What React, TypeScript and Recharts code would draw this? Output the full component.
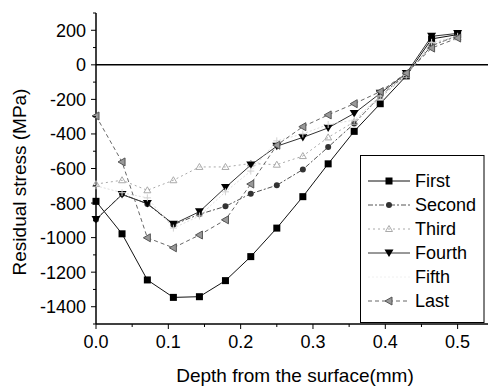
import React from 'react';
import { LineChart, Line, XAxis, YAxis, ReferenceLine, Legend, Label } from 'recharts';

const depth = [0, 0.036, 0.071, 0.107, 0.143, 0.179, 0.214, 0.25, 0.286, 0.321, 0.357, 0.393, 0.429, 0.464, 0.5];
const first = [-790, -978, -1245, -1346, -1342, -1249, -1110, -945, -763, -573, -385, -225, -64, 150, 175];
const second = [-895, -748, -805, -925, -865, -819, -746, -697, -606, -476, -340, -180, -55, 110, 170];
const third = [-690, -668, -726, -668, -591, -591, -571, -578, -528, -420, -330, -190, -60, 120, 160];
const fourth = [-895, -751, -803, -922, -850, -710, -580, -471, -420, -365, -281, -165, -50, 165, 182];
const fifth = [-700, -740, -770, -945, -875, -735, -615, -440, -400, -345, -320, -180, -60, 130, 165];
const last = [-296, -562, -1001, -1059, -985, -897, -690, -465, -358, -290, -225, -155, -48, 97, 155];

const seriesNames = ['First', 'Second', 'Third', 'Fourth', 'Fifth', 'Last'];
const seriesKeys = ['first', 'second', 'third', 'fourth', 'fifth', 'last'];

const xTicks = [0, 0.05, 0.1, 0.15, 0.2, 0.25, 0.3, 0.35, 0.4, 0.45, 0.5];
const xMajor = [0, 0.1, 0.2, 0.3, 0.4, 0.5];
const yTicks = [-1500, -1400, -1300, -1200, -1100, -1000, -900, -800, -700, -600, -500, -400, -300, -200, -100, 0, 100, 200, 300];
const yMajor = [-1400, -1200, -1000, -800, -600, -400, -200, 0, 200];

const data = depth.map((d, i) => ({
  depth: d,
  first: first[i],
  second: second[i],
  third: third[i],
  fourth: fourth[i],
  fifth: fifth[i],
  last: last[i],
}));

const FONT = '"Liberation Sans", Arial, sans-serif';

type Style = { color: string; dash?: string; shape: string; fill: string; width: number };
const styles: Record<string, Style> = {
  first: { color: '#111', shape: 'square', fill: '#000', width: 1 },
  second: { color: '#555', dash: '5 2 2 2', shape: 'circle', fill: '#333', width: 1 },
  third: { color: '#aaa', dash: '2 3', shape: 'triUp', fill: '#aaa', width: 1 },
  fourth: { color: '#333', shape: 'triDown', fill: '#000', width: 1 },
  fifth: { color: '#dedede', dash: '2 2', shape: 'cross', fill: '#d2d2d2', width: 1 },
  last: { color: '#666', dash: '4 3', shape: 'triLeft', fill: '#555', width: 1 },
};

function Marker({ shape, x, y, fill }: { shape: string; x: number; y: number; fill: string }) {
  switch (shape) {
    case 'square':
      return <rect x={x - 3.5} y={y - 3.5} width={7} height={7} fill={fill} />;
    case 'circle':
      return <circle cx={x} cy={y} r={3} fill={fill} />;
    case 'triUp':
      return <polygon points={`${x},${y - 3.5} ${x + 3.5},${y + 2.5} ${x - 3.5},${y + 2.5}`} fill="none" stroke={fill} strokeWidth={1} />;
    case 'triDown':
      return <polygon points={`${x - 4.5},${y - 3.5} ${x + 4.5},${y - 3.5} ${x},${y + 4}`} fill={fill} />;
    case 'cross':
      return (
        <g stroke={fill} strokeWidth={1}>
          <line x1={x - 3.5} y1={y} x2={x + 3.5} y2={y} />
          <line x1={x} y1={y - 3.5} x2={x} y2={y + 3.5} />
        </g>
      );
    case 'triLeft':
      return <polygon points={`${x - 4},${y} ${x + 3},${y - 4} ${x + 3},${y + 4}`} fill="#999" stroke={fill} strokeWidth={1} />;
    default:
      return null;
  }
}

const makeDot = (key: string) => (props: any) => {
  const s = styles[key];
  if (props.cx == null || props.cy == null) return <g key={`${key}-${props.index}`} />;
  return (
    <g key={`${key}-${props.index}`}>
      <Marker shape={s.shape} x={props.cx} y={props.cy} fill={s.fill} />
    </g>
  );
};

const XTick = (props: any) => {
  const { x, y, payload } = props;
  const axisY = y - 11;
  const v = payload.value;
  const major = xMajor.some((m) => Math.abs(m - v) < 1e-6);
  return (
    <g>
      <line x1={x} y1={axisY} x2={x} y2={axisY + (major ? 5 : 3)} stroke="#000" strokeWidth={1} />
      {major && (
        <text x={x} y={axisY + 24} textAnchor="middle" fontSize={18} fontFamily={FONT} fill="#000">
          {v.toFixed(1)}
        </text>
      )}
    </g>
  );
};

const YTick = (props: any) => {
  const { x, y, payload } = props;
  const axisX = x + 10;
  const v = payload.value;
  const major = yMajor.includes(v);
  return (
    <g>
      <line x1={axisX} y1={y} x2={axisX - (major ? 5 : 3)} y2={y} stroke="#000" strokeWidth={1} />
      {major && (
        <text x={axisX - 10} y={y} dy="0.36em" textAnchor="end" fontSize={18} fontFamily={FONT} fill="#000">
          {v}
        </text>
      )}
    </g>
  );
};

const YLabel = () => (
  <text
    x={19}
    y={182}
    transform="rotate(-90 19 182)"
    textAnchor="middle"
    dy="0.36em"
    fontSize={19}
    fontFamily={FONT}
    fill="#000"
  >
    Residual stress (MPa)
  </text>
);

const XLabel = () => (
  <text x={295} y={382} textAnchor="middle" fontSize={19} fontFamily={FONT} fill="#000">
    Depth from the surface(mm)
  </text>
);

const LegendBox = () => (
  <svg width={125} height={169} style={{ display: 'block' }}>
    <rect x={0.5} y={0.5} width={123.5} height={167} fill="#fff" stroke="#000" strokeWidth={1} />
    {seriesKeys.map((k, i) => {
      const s = styles[k];
      const cy = 26 + i * 24;
      const faint = k === 'fifth';
      return (
        <g key={k}>
          <line x1={8} y1={cy} x2={50} y2={cy} stroke={faint ? '#f0f0f0' : s.color} strokeWidth={1} strokeDasharray={s.dash} />
          {!faint && <Marker shape={s.shape} x={29} y={cy} fill={s.fill} />}
          <text x={55} y={cy} dy="0.36em" fontSize={18} fontFamily={FONT} fill="#000">
            {seriesNames[i]}
          </text>
        </g>
      );
    })}
  </svg>
);

export default function App() {
  return (
    <div style={{ position: 'absolute', left: 0, top: 0, width: 489, height: 389, background: '#fff' }}>
      <LineChart width={489} height={389} data={data} margin={{ top: 13, right: 1, bottom: 5, left: 0 }}>
        <XAxis
          dataKey="depth"
          type="number"
          domain={[0, 0.542]}
          ticks={xTicks}
          interval={0}
          tickSize={5}
          tickMargin={6}
          tickLine={false}
          tick={<XTick />}
          height={60}
          axisLine={{ stroke: '#000', strokeWidth: 1.5 }}
        >
          <Label content={<XLabel />} />
        </XAxis>
        <YAxis
          type="number"
          domain={[-1500, 300]}
          ticks={yTicks}
          interval={0}
          tickSize={5}
          tickMargin={5}
          tickLine={false}
          tick={<YTick />}
          width={96}
          axisLine={{ stroke: '#000', strokeWidth: 1.5 }}
        >
          <Label content={<YLabel />} />
        </YAxis>
        <ReferenceLine y={0} stroke="#000" strokeWidth={1.5} />
        {seriesKeys.map((k, i) => (
          <Line
            key={k}
            dataKey={k}
            name={seriesNames[i]}
            stroke={styles[k].color}
            strokeWidth={styles[k].width}
            strokeDasharray={styles[k].dash}
            dot={makeDot(k)}
            activeDot={false}
            isAnimationActive={false}
          />
        ))}
        <Legend
          layout="vertical"
          align="center"
          verticalAlign="middle"
          content={() => <LegendBox />}
          wrapperStyle={{ position: 'absolute', left: 360, top: 155, width: 125, height: 169 }}
        />
      </LineChart>
    </div>
  );
}
